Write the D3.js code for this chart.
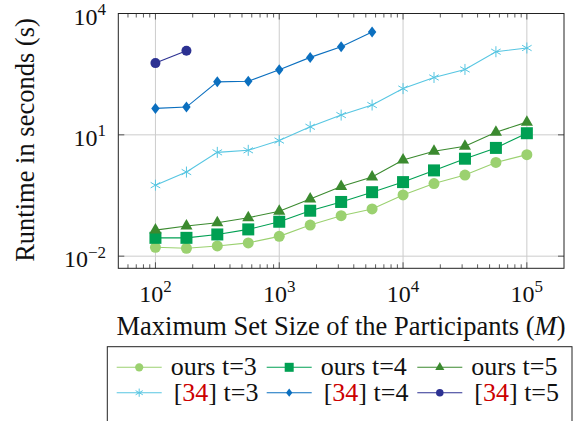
<!DOCTYPE html>
<html>
<head>
<meta charset="utf-8">
<script src="https://cdn.jsdelivr.net/npm/d3@7"></script>
<style>
  body { margin: 0; background: #fff; }
  text { font-family: "Liberation Serif", "Times New Roman", serif; }
</style>
</head>
<body>
<div id="chart"></div>
<script>

// set sizes M (x values, quarter decades)
const setSizes = [100, 178, 316, 562, 1000, 1778, 3162, 5623, 10000, 17783, 31623, 56234, 100000];

// runtimes in seconds
const oursT3 = [0.0166, 0.0157, 0.0179, 0.0213, 0.0309, 0.0587, 0.100, 0.147, 0.327, 0.625, 1.01, 2.08, 3.24];
const oursT4 = [0.0284, 0.0284, 0.0344, 0.0459, 0.0710, 0.133, 0.219, 0.382, 0.678, 1.32, 2.57, 4.75, 10.96];
const oursT5 = [0.0441, 0.0555, 0.0670, 0.0891, 0.129, 0.259, 0.526, 0.902, 2.39, 3.91, 5.20, 11.6, 20.6];
const refT3 = [0.570, 1.20, 3.69, 4.14, 7.21, 15.8, 30.8, 54.6, 139, 262, 414, 1135, 1403];
const refT4 = [45.1, 48.6, 204, 212, 405, 822, 1514, 3467];
const refT5 = [594, 1202];

const xTickExps = [2, 3, 4, 5];
const yTickExps = [-2, 1, 4];

const series = [
  { name: "ours t=3", ref: false, t: 3, values: oursT3, color: "#9bd170", mark: "circle" },
  { name: "ours t=4", ref: false, t: 4, values: oursT4, color: "#00a053", mark: "square" },
  { name: "ours t=5", ref: false, t: 5, values: oursT5, color: "#3b8a2f", mark: "triangle" },
  { name: "[34] t=3", ref: true, t: 3, values: refT3, color: "#57c6e2", mark: "asterisk" },
  { name: "[34] t=4", ref: true, t: 4, values: refT4, color: "#0b6fbf", mark: "diamond" },
  { name: "[34] t=5", ref: true, t: 5, values: refT5, color: "#2c3192", mark: "dot" }
];

let width = 577, height = 421;
let plotL = 118.3, plotR = 564, plotT = 13.5, plotB = 268.3;

let svg = d3.select("#chart").append("svg")
  .attr("width", width)
  .attr("height", height);

let x = d3.scaleLog().domain([Math.pow(10, 1.7), Math.pow(10, 5.3)]).range([plotL, plotR]);
let y = d3.scaleLog().domain([Math.pow(10, -2.3), Math.pow(10, 4)]).range([plotB, plotT]);

// grid
let grid = svg.append("g");
xTickExps.forEach(e => {
  grid.append("line")
    .attr("x1", x(Math.pow(10, e))).attr("x2", x(Math.pow(10, e)))
    .attr("y1", plotT).attr("y2", plotB)
    .attr("stroke", "#cccccc").attr("stroke-width", 1);
});
yTickExps.forEach(e => {
  grid.append("line")
    .attr("x1", plotL).attr("x2", plotR)
    .attr("y1", y(Math.pow(10, e))).attr("y2", y(Math.pow(10, e)))
    .attr("stroke", "#cccccc").attr("stroke-width", 1);
});

// ticks (inward, on both sides)
let ticks = svg.append("g").attr("stroke", "#333").attr("stroke-width", 0.8);
for (let e = 1; e <= 5; e++) {
  for (let m = 1; m <= 9; m++) {
    let v = m * Math.pow(10, e);
    if (v < x.domain()[0] || v > x.domain()[1]) continue;
    let len = m === 1 ? 6 : 4;
    ticks.append("line").attr("x1", x(v)).attr("x2", x(v)).attr("y1", plotB).attr("y2", plotB - len);
    ticks.append("line").attr("x1", x(v)).attr("x2", x(v)).attr("y1", plotT).attr("y2", plotT + len);
  }
}
yTickExps.forEach(e => {
  let yy = y(Math.pow(10, e));
  ticks.append("line").attr("x1", plotL).attr("x2", plotL + 6).attr("y1", yy).attr("y2", yy);
  ticks.append("line").attr("x1", plotR).attr("x2", plotR - 6).attr("y1", yy).attr("y2", yy);
});

// tick labels
function powerLabel(g, e) {
  g.append("tspan").text("10");
  g.append("tspan")
    .attr("dy", -9.5)
    .style("font-size", "17px")
    .text(e < 0 ? "\u2212" + (-e) : e);
}

xTickExps.forEach(e => {
  let t = svg.append("text")
    .attr("x", x(Math.pow(10, e)))
    .attr("y", 301.5)
    .attr("text-anchor", "middle")
    .style("font-size", "24px")
    .attr("fill", "#111");
  powerLabel(t, e);
});

yTickExps.forEach(e => {
  let t = svg.append("text")
    .attr("x", 106)
    .attr("y", y(Math.pow(10, e)) + 11)
    .attr("text-anchor", "end")
    .style("font-size", "24px")
    .attr("fill", "#111");
  powerLabel(t, e);
});

// axis titles
let xTitle = svg.append("text")
  .attr("x", 341)
  .attr("y", 335)
  .attr("text-anchor", "middle")
  .style("font-size", "26.5px")
  .attr("fill", "#111");
xTitle.append("tspan").text("Maximum Set Size of the Participants (");
xTitle.append("tspan").style("font-style", "italic").text("M");
xTitle.append("tspan").text(")");

svg.append("text")
  .attr("transform", "translate(34,140) rotate(-90)")
  .attr("text-anchor", "middle")
  .style("font-size", "26.5px")
  .attr("fill", "#111")
  .text("Runtime in seconds (s)");

// markers
function drawMark(g, kind, cx, cy, color, s) {
  if (kind === "circle") {
    g.append("circle").attr("cx", cx).attr("cy", cy).attr("r", 5.5 * s).attr("fill", color);
  } else if (kind === "dot") {
    g.append("circle").attr("cx", cx).attr("cy", cy).attr("r", 5 * s).attr("fill", color);
  } else if (kind === "square") {
    let h = 6 * s;
    g.append("rect").attr("x", cx - h).attr("y", cy - h).attr("width", 2 * h).attr("height", 2 * h).attr("fill", color);
  } else if (kind === "triangle") {
    let r = 7 * s;
    let pts = [[cx, cy - r], [cx - r * 0.866, cy + r * 0.5], [cx + r * 0.866, cy + r * 0.5]];
    g.append("polygon").attr("points", pts.map(p => p.join(",")).join(" ")).attr("fill", color);
  } else if (kind === "diamond") {
    let w = 4.2 * s, h = 5.5 * s;
    let pts = [[cx, cy - h], [cx + w, cy], [cx, cy + h], [cx - w, cy]];
    g.append("polygon").attr("points", pts.map(p => p.join(",")).join(" ")).attr("fill", color);
  } else if (kind === "asterisk") {
    let r = 5.5 * s;
    [90, 30, 150].forEach(a => {
      let dx = r * Math.cos(a * Math.PI / 180), dy = r * Math.sin(a * Math.PI / 180);
      g.append("line")
        .attr("x1", cx - dx).attr("y1", cy - dy)
        .attr("x2", cx + dx).attr("y2", cy + dy)
        .attr("stroke", color).attr("stroke-width", 1);
    });
  }
}

let line = d3.line()
  .x(d => x(d[0]))
  .y(d => y(d[1]));

let plot = svg.append("g");
series.forEach(s => {
  let pts = s.values.map((v, i) => [setSizes[i], v]);
  plot.append("path")
    .attr("d", line(pts))
    .attr("fill", "none")
    .attr("stroke", s.color)
    .attr("stroke-width", 1.1);
  pts.forEach(p => drawMark(plot, s.mark, x(p[0]), y(p[1]), s.color, 1));
});

// frame
svg.append("rect")
  .attr("x", plotL).attr("y", plotT)
  .attr("width", plotR - plotL).attr("height", plotB - plotT)
  .attr("fill", "none")
  .attr("stroke", "#222")
  .attr("stroke-width", 1);

// legend
let legend = svg.append("g");
legend.append("rect")
  .attr("x", 107.3).attr("y", 346.7)
  .attr("width", 572 - 107.3).attr("height", 100)
  .attr("fill", "#fff")
  .attr("stroke", "#222")
  .attr("stroke-width", 1);

let colX = [116.7, 266.7, 417.3];
let rowY = [367.3, 392.7];
series.forEach((s, i) => {
  let lx = colX[i % 3], ly = rowY[Math.floor(i / 3)];
  legend.append("line")
    .attr("x1", lx).attr("x2", lx + 45)
    .attr("y1", ly).attr("y2", ly)
    .attr("stroke", s.color).attr("stroke-width", 1.1);
  drawMark(legend, s.mark, lx + 22.5, ly, s.color, 0.75);
  let t = legend.append("text")
    .attr("x", lx + 54 + (s.ref ? 3 : 0))
    .attr("y", ly + 8)
    .style("font-size", "26px")
    .attr("fill", "#111");
  if (s.ref) {
    t.append("tspan").text("[");
    t.append("tspan").attr("fill", "#cc0000").text("34");
    t.append("tspan").text("] t=" + s.t);
  } else {
    t.text(s.name);
  }
});

</script>
</body>
</html>
